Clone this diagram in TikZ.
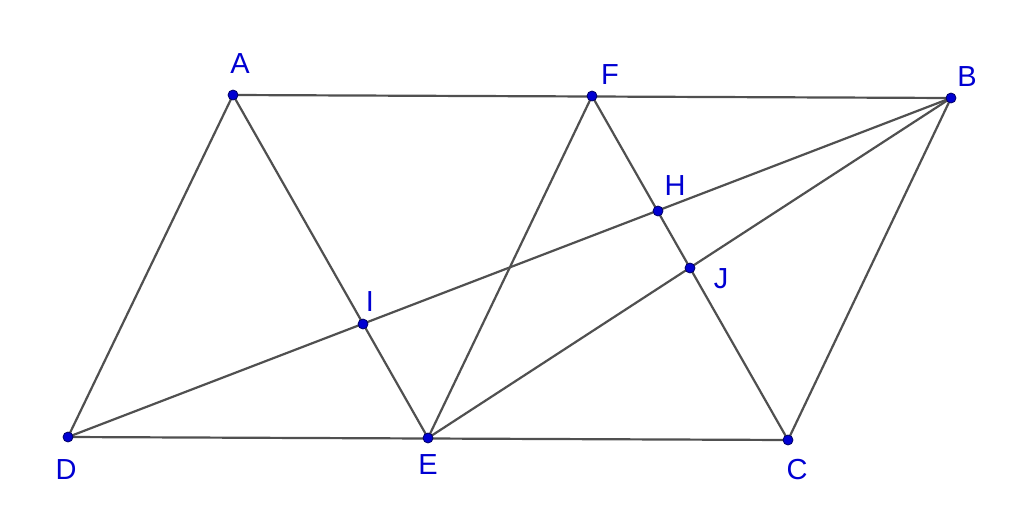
\documentclass[tikz,border=0pt]{standalone}
\usepackage{fontspec}
\setmainfont{Liberation Sans}
\usetikzlibrary{positioning}
\definecolor{ptblue}{RGB}{0,0,210}
\definecolor{ptedge}{RGB}{0,0,100}
\definecolor{segcol}{RGB}{80,80,80}
\tikzset{
  seg/.style={segcol, line width=2.2pt},
  dot/.style={circle, fill=ptblue, draw=ptedge, line width=0.8pt, inner sep=0pt, minimum size=10pt},
  lbl/.style={text=ptblue, font=\fontsize{29}{33}\selectfont, inner sep=0pt},
}

\begin{document}
\begin{tikzpicture}[x=1pt, y=-1pt]
    \useasboundingbox (0,0) rectangle (1024,506);
    % points
    \coordinate (A) at (233,95);
    \coordinate (F) at (592,96);
    \coordinate (B) at (951,98);
    \coordinate (D) at (68,437);
    \coordinate (E) at (428,438);
    \coordinate (C) at (788,440);
    \coordinate (H) at (658,211);
    \coordinate (I) at (363,324);
    \coordinate (J) at (690,268);
    % segments
    \draw[seg] (A) -- (B) -- (C) -- (D) -- cycle;
    \draw[seg] (A) -- (E) -- (F) -- (C);
    \draw[seg] (D) -- (B);
    \draw[seg] (E) -- (B);
    % dots
    \foreach \p in {A,F,B,D,E,C,H,I,J}
      \node[dot] (\p dot) at (\p) {};
    % labels
    \node[lbl] (labA) at (240,64) {A};
    \node[lbl] (labF) at (610,75) {F};
    \node[lbl] (labB) at (967,77) {B};
    \node[lbl] (labH) at (675,186) {H};
    \node[lbl] (labI) at (370,302) {I};
    \node[lbl] (labJ) at (721,279) {J};
    \node[lbl] (labD) at (66,470) {D};
    \node[lbl] (labE) at (428,465) {E};
    \node[lbl] (labC) at (797,470) {C};
\end{tikzpicture}
\end{document}
